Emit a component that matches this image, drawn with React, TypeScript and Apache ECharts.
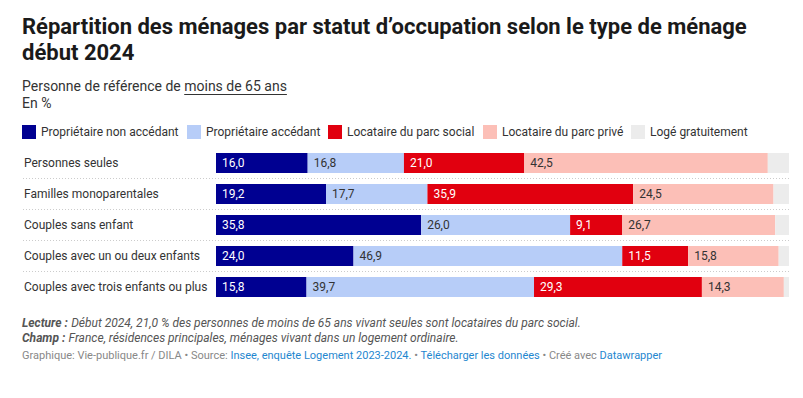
import React, { useEffect, useRef } from "react";
import * as echarts from "echarts";

const categories = [
  "Personnes seules",
  "Familles monoparentales",
  "Couples sans enfant",
  "Couples avec un ou deux enfants",
  "Couples avec trois enfants ou plus",
];
const seriesNames = [
  "Propriétaire non accédant",
  "Propriétaire accédant",
  "Locataire du parc social",
  "Locataire du parc privé",
  "Logé gratuitement",
];
const proprietaireNonAccedant = [16.0, 19.2, 35.8, 24.0, 15.8];
const proprietaireAccedant = [16.8, 17.7, 26.0, 46.9, 39.7];
const locataireSocial = [21.0, 35.9, 9.1, 11.5, 29.3];
const locatairePrive = [42.5, 24.5, 26.7, 15.8, 14.3];
const logeGratuitement = [3.7, 2.7, 2.4, 1.8, 0.9];
const seriesValues = [
  proprietaireNonAccedant,
  proprietaireAccedant,
  locataireSocial,
  locatairePrive,
  logeGratuitement,
];

const titleLine1 = "Répartition des ménages par statut d’occupation selon le type de ménage";
const titleLine2 = "début 2024";
const subtitleStart = "Personne de référence de ";
const subtitleLink = "moins de 65 ans";
const unitText = "En %";
const noteLecture = "Début 2024, 21,0 % des personnes de moins de 65 ans vivant seules sont locataires du parc social.";
const noteChamp = "France, résidences principales, ménages vivant dans un logement ordinaire.";

const colors = ["#000091", "#b7cdf8", "#e1000f", "#fcbfb7", "#ececec"];
const labelColors = ["#ffffff", "#333333", "#ffffff", "#333333", "#333333"];
const legendLefts = [22, 187, 328, 483, 631];
const FONT = "Roboto";

function measure(text: string, font: string): number {
  const c = document.createElement("canvas");
  const ctx = c.getContext("2d");
  if (!ctx) return text.length * 7;
  ctx.font = font;
  return ctx.measureText(text).width;
}

export default function App() {
  const ref = useRef<HTMLDivElement>(null);

  useEffect(() => {
    document.body.style.margin = "0";
    if (!ref.current) return;
    const chart = echarts.init(ref.current, null, { renderer: "svg" });

    const subStartW = measure(subtitleStart, `14px ${FONT}`);
    const subLinkW = measure(subtitleLink, `14px ${FONT}`);

    const series: any[] = seriesNames.map((name, i) => ({
      name,
      type: "bar",
      stack: "total",
      xAxisIndex: 0,
      yAxisIndex: 0,
      barWidth: 20,
      data: seriesValues[i],
      itemStyle: { color: colors[i] },
      emphasis: { disabled: true },
      label: {
        show: i < 4,
        position: "insideLeft",
        distance: 6,
        color: labelColors[i],
        fontSize: 12,
        fontFamily: FONT,
        formatter: (p: any) => Number(p.value).toFixed(1).replace(".", ","),
      },
    }));

    const legends = seriesNames.map((name, i) => ({
      data: [name],
      left: legendLefts[i],
      top: 125,
      padding: 0,
      itemWidth: 14,
      itemHeight: 14,
      icon: "rect",
      selectedMode: false,
      textStyle: { fontSize: 12, color: "#333333", fontFamily: FONT },
    }));

    const noteRich = {
      b: { fontFamily: FONT, fontSize: 12, fontWeight: "bold", fontStyle: "italic", fill: "#555555" },
      i: { fontFamily: FONT, fontSize: 12, fontStyle: "italic", fill: "#555555" },
    };

    chart.setOption({
      animation: false,
      textStyle: { fontFamily: FONT },
      legend: legends,
      grid: [
        { left: 216, right: 14, top: 147.5, height: 155, containLabel: false },
        { left: 23, right: 14, top: 178.5, height: 93, containLabel: false },
      ],
      xAxis: [
        { type: "value", gridIndex: 0, min: 0, max: 100, show: false },
        { type: "value", gridIndex: 1, min: 0, max: 1, show: false },
      ],
      yAxis: [
        {
          type: "category",
          gridIndex: 0,
          data: categories,
          inverse: true,
          axisLine: { show: false },
          axisTick: { show: false },
          splitLine: { show: false },
          axisLabel: {
            align: "left",
            margin: 192,
            fontSize: 12,
            color: "#333333",
            fontFamily: FONT,
          },
          z: 3,
        },
        {
          type: "value",
          gridIndex: 1,
          min: 0,
          max: 3,
          interval: 1,
          axisLine: { show: false },
          axisTick: { show: false },
          axisLabel: { show: false },
          splitLine: {
            show: true,
            lineStyle: { type: [1, 2], color: "#cccccc", width: 1 },
          },
          z: 0,
        },
      ],
      series,
      graphic: [
        {
          type: "text",
          left: 22,
          top: 15,
          style: { text: titleLine1, font: `bold 22px ${FONT}`, fill: "#1a1a1a" },
        },
        {
          type: "text",
          left: 22,
          top: 41,
          style: { text: titleLine2, font: `bold 22px ${FONT}`, fill: "#1a1a1a" },
        },
        {
          type: "text",
          left: 22,
          top: 79,
          style: { text: subtitleStart + subtitleLink, font: `14px ${FONT}`, fill: "#333333" },
        },
        {
          type: "line",
          shape: { x1: 22 + subStartW, y1: 94.5, x2: 22 + subStartW + subLinkW, y2: 94.5 },
          style: { stroke: "#333333", lineWidth: 1 },
        },
        {
          type: "text",
          left: 22,
          top: 96,
          style: { text: unitText, font: `14px ${FONT}`, fill: "#333333" },
        },
        {
          type: "text",
          left: 22,
          top: 317,
          style: { text: `{b|Lecture :} {i|${noteLecture}}`, rich: noteRich },
        },
        {
          type: "text",
          left: 22,
          top: 332,
          style: { text: `{b|Champ :} {i|${noteChamp}}`, rich: noteRich },
        },
        {
          type: "text",
          left: 22,
          top: 350,
          style: {
            text:
              "{g|Graphique: Vie-publique.fr / DILA • Source: }{l|Insee, enquête Logement 2023-2024.}{g| • }{l|Télécharger les données}{g| • Créé avec }{l|Datawrapper}",
            rich: {
              g: { fontFamily: FONT, fontSize: 11, fill: "#888888" },
              l: { fontFamily: FONT, fontSize: 11, fill: "#1f87cf" },
            },
          },
        },
      ],
    });

    return () => chart.dispose();
  }, []);

  return <div ref={ref} style={{ width: 803, height: 398 }} />;
}
